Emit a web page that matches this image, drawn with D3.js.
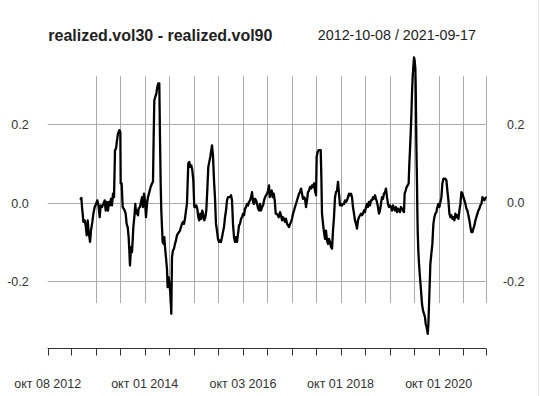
<!DOCTYPE html>
<html>
<head>
<meta charset="utf-8">
<script src="https://cdn.jsdelivr.net/npm/d3@7"></script>
<style>
  html, body { margin: 0; padding: 0; background: #fff; }
  svg { display: block; }
  text { font-family: "Liberation Sans", Arial, sans-serif; }
</style>
</head>
<body>
<svg id="chart" width="540" height="396"></svg>
<script>
// ---------------- data ----------------
const titleMain = "realized.vol30 - realized.vol90";
const titleRange = "2012-10-08 / 2021-09-17";
const indexStart = "2012-10-08";
const indexEnd = "2021-09-17";

// observation dates as decimal years
const obsYears = [
 2013.441,2013.455,2013.468,2013.482,2013.496,2013.523,2013.543,2013.564,2013.584,2013.604,
 2013.632,2013.652,2013.679,2013.700,2013.727,2013.754,2013.781,2013.809,2013.829,2013.849,
 2013.877,2013.904,2013.931,2013.952,2013.972,2013.999,2014.020,2014.040,2014.060,2014.081,
 2014.101,2014.122,2014.135,2014.142,2014.163,2014.183,2014.203,2014.231,2014.251,2014.258,
 2014.278,2014.299,2014.319,2014.340,2014.360,2014.380,2014.401,2014.421,2014.435,2014.448,
 2014.469,2014.489,2014.503,2014.517,2014.537,2014.557,2014.571,2014.591,2014.612,2014.625,
 2014.653,2014.673,2014.694,2014.714,2014.734,2014.755,2014.775,2014.796,2014.816,2014.843,
 2014.870,2014.898,2014.918,2014.932,2014.945,2014.966,2014.986,2015.007,2015.027,2015.047,
 2015.061,2015.075,2015.088,2015.102,2015.115,2015.136,2015.149,2015.170,2015.183,2015.204,
 2015.217,2015.238,2015.258,2015.279,2015.292,2015.306,2015.326,2015.347,2015.367,2015.388,
 2015.408,2015.428,2015.449,2015.469,2015.490,2015.510,2015.531,2015.551,2015.571,2015.592,
 2015.612,2015.626,2015.639,2015.660,2015.680,2015.701,2015.721,2015.742,2015.762,2015.782,
 2015.803,2015.823,2015.844,2015.864,2015.884,2015.905,2015.925,2015.946,2015.966,2015.987,
 2016.007,2016.027,2016.048,2016.068,2016.089,2016.109,2016.123,2016.143,2016.164,2016.184,
 2016.204,2016.225,2016.245,2016.266,2016.286,2016.306,2016.327,2016.347,2016.368,2016.388,
 2016.409,2016.429,2016.449,2016.470,2016.490,2016.511,2016.531,2016.551,2016.572,2016.592,
 2016.613,2016.633,2016.654,2016.674,2016.694,2016.715,2016.735,2016.756,2016.776,2016.796,
 2016.817,2016.837,2016.858,2016.878,2016.899,2016.919,2016.939,2016.960,2016.980,2017.001,
 2017.021,2017.042,2017.062,2017.082,2017.103,2017.123,2017.144,2017.164,2017.184,2017.205,
 2017.225,2017.246,2017.266,2017.286,2017.300,2017.320,2017.341,2017.361,2017.382,2017.402,
 2017.423,2017.443,2017.463,2017.484,2017.511,2017.531,2017.552,2017.572,2017.592,2017.613,
 2017.633,2017.654,2017.674,2017.695,2017.715,2017.735,2017.756,2017.776,2017.797,2017.817,
 2017.837,2017.858,2017.878,2017.899,2017.919,2017.940,2017.960,2017.980,2018.001,2018.021,
 2018.042,2018.062,2018.082,2018.103,2018.123,2018.144,2018.164,2018.185,2018.205,2018.225,
 2018.246,2018.259,2018.280,2018.300,2018.321,2018.341,2018.355,2018.368,2018.389,2018.409,
 2018.430,2018.450,2018.470,2018.491,2018.511,2018.532,2018.552,2018.573,2018.593,2018.613,
 2018.634,2018.654,2018.675,2018.695,2018.715,2018.736,2018.756,2018.777,2018.797,2018.818,
 2018.838,2018.858,2018.879,2018.899,2018.920,2018.940,2018.961,2018.981,2019.001,2019.022,
 2019.042,2019.063,2019.083,2019.103,2019.124,2019.144,2019.165,2019.185,2019.205,2019.226,
 2019.246,2019.267,2019.287,2019.308,2019.328,2019.348,2019.369,2019.389,2019.410,2019.430,
 2019.451,2019.471,2019.491,2019.512,2019.532,2019.553,2019.573,2019.593,2019.614,2019.634,
 2019.655,2019.675,2019.696,2019.716,2019.736,2019.757,2019.777,2019.798,2019.818,2019.838,
 2019.859,2019.879,2019.900,2019.920,2019.941,2019.961,2019.981,2020.002,2020.022,2020.043,
 2020.056,2020.077,2020.097,2020.118,2020.138,2020.152,2020.165,2020.179,2020.192,2020.206,
 2020.220,2020.233,2020.247,2020.260,2020.274,2020.281,2020.288,2020.294,2020.301,2020.308,
 2020.315,2020.322,2020.335,2020.349,2020.369,2020.390,2020.410,2020.431,2020.451,2020.471,
 2020.485,2020.505,2020.526,2020.540,2020.553,2020.567,2020.580,2020.601,2020.621,2020.642,
 2020.662,2020.682,2020.703,2020.723,2020.744,2020.764,2020.785,2020.805,2020.825,2020.846,
 2020.866,2020.887,2020.907,2020.927,2020.948,2020.968,2020.989,2021.009,2021.030,2021.050,
 2021.070,2021.091,2021.111,2021.132,2021.152,2021.172,2021.193,2021.213,2021.234,2021.254,
 2021.275,2021.295,2021.315,2021.336,2021.356,2021.377,2021.397,2021.417,2021.438,2021.458,
 2021.479,2021.499,2021.519,2021.540,2021.560,2021.581,2021.601,2021.622,2021.642,2021.662,
 2021.683,2021.710
];

// realized.vol30 - realized.vol90
const volSpread = [
 0.010,0.012,-0.011,-0.028,-0.049,-0.045,-0.058,-0.083,-0.045,-0.075,
 -0.100,-0.071,-0.049,-0.028,-0.011,-0.003,0.006,-0.011,-0.037,-0.007,
 -0.011,-0.003,0.006,-0.020,0.002,-0.020,0.002,-0.007,0.010,-0.007,
 0.023,0.014,0.091,0.134,0.138,0.159,0.176,0.185,0.180,0.049,
 0.049,-0.011,-0.015,-0.020,-0.028,-0.054,-0.062,-0.088,-0.122,-0.160,
 -0.113,-0.126,-0.096,-0.062,-0.037,-0.003,-0.028,-0.020,-0.032,-0.015,
 -0.011,0.002,0.014,-0.011,0.023,0.006,-0.037,-0.003,0.014,0.027,
 0.040,0.049,0.053,0.168,0.261,0.270,0.278,0.295,0.304,0.304,
 0.168,0.049,-0.020,-0.062,-0.100,-0.105,-0.088,-0.122,-0.139,-0.169,
 -0.215,-0.190,-0.211,-0.241,-0.283,-0.139,-0.122,-0.117,-0.105,-0.096,
 -0.083,-0.079,-0.075,-0.071,-0.062,-0.054,-0.049,-0.054,-0.041,-0.020,
 -0.003,0.049,0.100,0.104,0.091,0.095,0.083,0.057,-0.011,-0.011,
 -0.007,-0.015,-0.037,-0.045,-0.028,-0.041,-0.020,-0.032,-0.045,-0.037,
 -0.020,0.031,0.091,0.104,0.117,0.134,0.146,0.121,0.057,0.014,
 -0.054,-0.071,-0.092,-0.100,-0.096,-0.100,-0.088,-0.075,-0.062,-0.037,
 -0.020,0.006,0.014,0.014,0.014,0.019,0.006,-0.054,-0.088,-0.100,
 -0.088,-0.100,-0.079,-0.058,-0.054,-0.041,-0.037,-0.028,-0.032,-0.015,
 -0.011,-0.003,-0.007,0.002,0.006,0.014,0.027,0.002,-0.003,0.010,
 0.006,-0.003,-0.015,-0.020,-0.003,-0.020,-0.011,-0.007,0.006,0.014,
 0.019,0.023,0.031,0.044,0.014,0.023,0.031,0.014,0.023,0.006,
 -0.028,-0.028,-0.032,-0.037,-0.024,-0.032,-0.045,-0.037,-0.041,-0.049,
 -0.041,-0.054,-0.058,-0.062,-0.054,-0.049,-0.041,-0.028,-0.020,-0.011,
 -0.003,0.006,0.014,0.023,0.027,0.036,0.023,0.010,0.014,0.010,
 -0.011,0.006,0.027,0.031,0.040,0.036,0.044,0.040,0.049,0.031,
 0.019,0.117,0.129,0.134,0.134,0.134,0.066,-0.028,-0.054,-0.075,
 -0.092,-0.071,-0.096,-0.105,-0.092,-0.100,-0.113,-0.117,-0.071,-0.037,
 0.014,0.027,0.031,0.053,0.023,-0.007,-0.003,-0.007,-0.003,-0.003,
 0.006,0.002,0.006,0.014,0.023,0.019,0.023,0.014,-0.011,-0.028,
 -0.045,-0.054,-0.066,-0.045,-0.037,-0.032,-0.028,-0.032,-0.028,-0.020,
 -0.024,-0.011,-0.003,-0.011,0.002,-0.007,0.006,0.006,0.014,0.010,
 0.019,0.010,0.002,-0.011,-0.028,-0.020,-0.003,0.014,0.010,0.023,
 0.027,0.036,0.014,-0.003,-0.011,-0.007,-0.011,-0.020,-0.007,-0.015,
 -0.020,-0.011,-0.024,-0.015,-0.020,-0.024,-0.011,-0.015,-0.020,-0.024,
 0.023,0.031,0.040,0.044,0.049,0.100,0.134,0.176,0.219,0.278,
 0.321,0.346,0.370,0.363,0.342,0.304,0.227,0.159,0.100,0.049,
 -0.020,-0.071,-0.122,-0.156,-0.190,-0.224,-0.258,-0.275,-0.283,-0.292,
 -0.309,-0.317,-0.334,-0.309,-0.258,-0.207,-0.156,-0.130,-0.105,-0.054,
 -0.037,-0.028,-0.024,-0.011,-0.003,-0.011,0.002,0.014,0.049,0.061,
 0.061,0.061,0.057,0.031,0.006,-0.028,-0.037,-0.032,-0.041,-0.037,
 -0.045,-0.028,-0.037,-0.032,-0.041,-0.020,-0.003,0.027,0.023,0.014,
 0.006,-0.003,-0.015,-0.020,-0.032,-0.045,-0.062,-0.075,-0.075,-0.066,
 -0.058,-0.045,-0.037,-0.028,-0.020,-0.015,-0.007,-0.003,0.014,0.010,
 0.006,0.013
];

const yTicks = [0.2, 0.0, -0.2];
const yTickLabels = ["0.2", "0.0", "-0.2"];
const xTickDates = ["2012-10-08","2013-04-01","2013-10-01","2014-04-01","2014-10-01",
  "2015-04-01","2015-10-01","2016-04-01","2016-10-03","2017-04-03","2017-10-02",
  "2018-04-02","2018-10-01","2019-04-01","2019-10-01","2020-04-01","2020-10-01",
  "2021-04-01","2021-09-17"];
const xLabelDates = ["2012-10-08","2014-10-01","2016-10-03","2018-10-01","2020-10-01"];
const xLabels = ["окт 08 2012","окт 01 2014","окт 03 2016","окт 01 2018","окт 01 2020"];
const gridDates = xTickDates.slice(2);

// ---------------- drawing ----------------
const parse = d3.timeParse("%Y-%m-%d");
const fromDecimalYear = t => {
  const y = Math.floor(t);
  const a = new Date(y, 0, 1), b = new Date(y + 1, 0, 1);
  return new Date(+a + (t - y) * (b - a));
};
const series = obsYears.map((t, i) => ({ date: fromDecimalYear(t), value: volSpread[i] }));

const svg = d3.select("#chart");
const left = 47.7, right = 485.7;
const x = d3.scaleTime().domain([parse(indexStart), parse(indexEnd)]).range([left, right]);
const y = d3.scaleLinear().domain([-0.2, 0.2]).range([281.2, 124.2]);

const gridColor = "#ababab";
const textColor = "#333";

// horizontal grid
svg.append("g").selectAll("line").data(yTicks).join("line")
  .attr("x1", left).attr("x2", right)
  .attr("y1", d => Math.round(y(d)) + 0.5).attr("y2", d => Math.round(y(d)) + 0.5)
  .attr("stroke", gridColor).attr("stroke-width", 1);

// vertical grid
svg.append("g").selectAll("line").data(gridDates).join("line")
  .attr("x1", d => Math.round(x(parse(d))) + 0.5).attr("x2", d => Math.round(x(parse(d))) + 0.5)
  .attr("y1", 76).attr("y2", 303)
  .attr("stroke", gridColor).attr("stroke-width", 1);

// y labels left & right
svg.append("g").selectAll("text").data(yTicks).join("text")
  .attr("x", 28.7).attr("y", d => y(d) + 4.8)
  .attr("text-anchor", "end").attr("font-size", "12.5px").attr("fill", textColor)
  .text((d, i) => yTickLabels[i]);
svg.append("g").selectAll("text").data(yTicks).join("text")
  .attr("x", 524.5).attr("y", d => y(d) + 4.5)
  .attr("text-anchor", "end").attr("font-size", "12.5px").attr("fill", textColor)
  .text((d, i) => yTickLabels[i]);

// series line
const line = d3.line().x(d => x(d.date)).y(d => y(d.value));
svg.append("path").datum(series)
  .attr("d", line).attr("fill", "none")
  .attr("stroke", "#000").attr("stroke-width", 2.3)
  .attr("stroke-linejoin", "round").attr("stroke-linecap", "round");

// bottom axis
const axisY = 348.5;
const ax = svg.append("g").attr("transform", `translate(0,${axisY})`);
ax.append("line").attr("x1", left).attr("x2", right + 0.5).attr("y1", 0).attr("y2", 0)
  .attr("stroke", "#333").attr("stroke-width", 1);
ax.selectAll("line.tick").data(xTickDates).join("line").attr("class", "tick")
  .attr("x1", d => Math.round(x(parse(d))) + 0.5).attr("x2", d => Math.round(x(parse(d))) + 0.5)
  .attr("y1", 0).attr("y2", 7)
  .attr("stroke", "#333").attr("stroke-width", 1);
svg.append("g").selectAll("text").data(xLabelDates).join("text")
  .attr("x", d => x(parse(d))).attr("y", 387.5)
  .attr("text-anchor", "middle").attr("font-size", "12.5px").attr("fill", textColor)
  .text((d, i) => xLabels[i]);

// titles
svg.append("text").attr("x", 48.3).attr("y", 40.7)
  .attr("font-size", "16px").attr("font-weight", "bold").attr("fill", "#222")
  .text(titleMain);
svg.append("text").attr("x", 476).attr("y", 39.8)
  .attr("text-anchor", "end").attr("font-size", "14.3px").attr("fill", "#222")
  .text(titleRange);

// faint right border as in the reference capture
svg.append("line").attr("x1", 538.5).attr("x2", 538.5).attr("y1", 0).attr("y2", 396)
  .attr("stroke", "#e6e6e6").attr("stroke-width", 1);
</script>
</body>
</html>
